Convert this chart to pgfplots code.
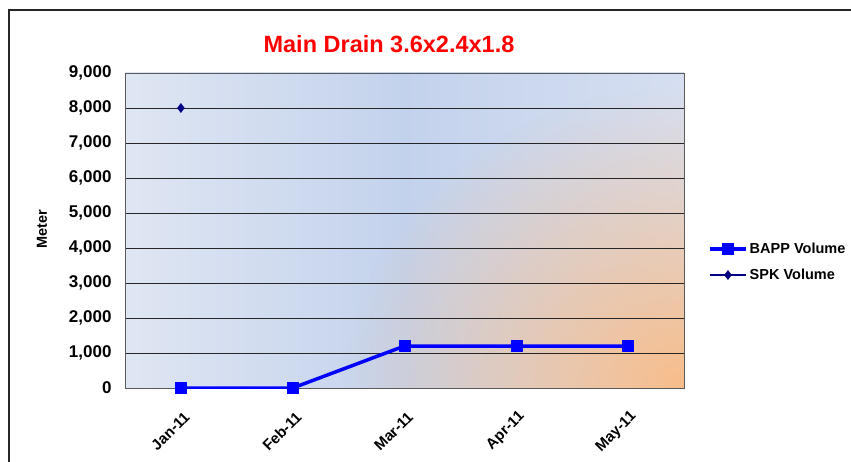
\documentclass[border=0pt]{standalone}
\usepackage{pgfplots}
\pgfplotsset{compat=1.18}
\usepackage{fontspec}
\setmainfont{Liberation Sans}
\usetikzlibrary{fadings}
\tikzfading[name=myfade, inner color=transparent!0, outer color=transparent!100]
\definecolor{bgl}{HTML}{DFE6F3}
\definecolor{bgm}{HTML}{C3D2EC}
\definecolor{bgr}{HTML}{D6DFF1}
\definecolor{sunset}{HTML}{F8BD8A}
\definecolor{navy}{HTML}{000080}
\begin{document}
\begin{tikzpicture}
\path[use as bounding box] (0,0) rectangle (851pt,461pt);
\draw[line width=1.6pt, black!85] (9pt,-2pt) -- (9pt,451pt) -- (853pt,451pt);
\shade[left color=bgl, right color=bgr, middle color=bgm] (125pt,73pt) rectangle (684pt,388pt);
\begin{scope}
\clip (125pt,73pt) rectangle (684pt,388pt);
\fill[sunset, path fading=myfade] (684pt,73pt) ellipse [x radius=340pt, y radius=300pt];
\end{scope}
\begin{axis}[
  at={(125pt,73pt)}, anchor=south west,
  scale only axis, width=559pt, height=315pt,
  xmin=-0.5, xmax=4.5, ymin=0, ymax=9000,
  xtick={0,1,2,3,4},
  xticklabels={Jan-11,Feb-11,Mar-11,Apr-11,May-11},
  ytick={0,1000,...,9000},
  yticklabels={0,{1,000},{2,000},{3,000},{4,000},{5,000},{6,000},{7,000},{8,000},{9,000}},
  yticklabel style={font=\fontsize{17}{17}\selectfont\bfseries, xshift=-10pt},
  xticklabel style={font=\fontsize{15}{15}\selectfont\bfseries, rotate=45, anchor=east, yshift=-23pt, xshift=-11pt},
  major tick length=0pt,
  ymajorgrids,
  major grid style={black!85, line width=0.8pt},
  axis line style={gray!70!black, line width=1pt},
  legend style={draw=none, fill=none, at={(1.043,0.4)}, anchor=west,
    font=\fontsize{14.5}{14.5}\selectfont\bfseries, row sep=10pt, inner sep=0pt},
  legend cell align=left,
  legend image code/.code={\draw[mark repeat=2,mark phase=2,#1] plot coordinates {(0pt,0pt) (18pt,0pt) (36pt,0pt)};},
]
\addplot[color=blue, line width=3.5pt, mark=square*, mark size=5.5pt, mark options={solid, line width=0.5pt}]
  coordinates {(0,0) (1,0) (2,1200) (3,1200) (4,1200)};
\addlegendentry{BAPP Volume}
\addplot[color=navy, line width=2pt, mark=diamond*, mark size=4.5pt, mark options={line width=0.5pt}]
  coordinates {(0,8000)};
\addlegendentry{SPK Volume}
\end{axis}
\node[red, font=\fontsize{23.5}{23.5}\selectfont\bfseries] at (389pt,417pt) {Main Drain 3.6x2.4x1.8};
\node[rotate=90, font=\fontsize{14.5}{14.5}\selectfont\bfseries] at (42pt,232pt) {Meter};
\end{tikzpicture}
\end{document}
